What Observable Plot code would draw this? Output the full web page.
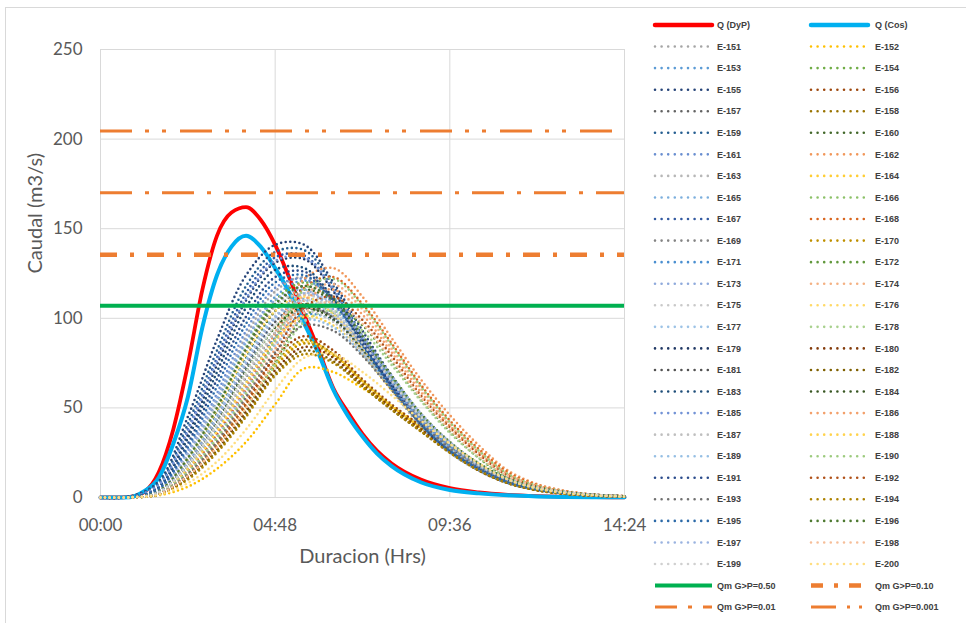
<!DOCTYPE html>
<html><head><meta charset="utf-8">
<script src="https://cdn.jsdelivr.net/npm/d3@7"></script>
<script src="https://cdn.jsdelivr.net/npm/@observablehq/plot@0.6"></script>
<style>
html,body{margin:0;padding:0;background:#fff;}
#wrap{position:relative;width:966px;height:623px;overflow:hidden;background:#fff;}
#frame{position:absolute;left:5px;top:7px;width:1000px;height:700px;border-left:1px solid #d9d9d9;border-top:1px solid #d9d9d9;}
#wrap svg{position:absolute;left:0;top:0;}
</style></head><body><div id="wrap"><div id="frame"></div></div>
<script>
// ---------- data ----------
const xTicks = [0, 4.8, 9.6, 14.4];
const yTicks = [0, 50, 100, 150, 200, 250];

const timesQ = [0,0.4,0.8,1.2,1.6,2.0,2.4,2.8,3.2,3.6,4.0,4.4,4.8,5.2,5.6,6.0,6.4,6.8,7.2,7.6,8.0,8.8,9.6,10.4,11.2,12.0,12.8,13.6,14.4];
const qDyP = [0,0,0.3,3,14,38,74,116,146,159,162,155,141,122,102,82,61,47.5,35.5,26,19,10,5.2,2.8,1.5,0.8,0.4,0.2,0.1];
const qCos = [0,0,0.2,3.5,11,30,56,95,124,140,146,140,128,114,97,80,60,45.5,34,24.5,17.5,8.5,4.2,2.3,1.2,0.6,0.3,0.15,0.1];

const timesE = [0,0.8,1.6,2.4,3.2,4.0,4.8,5.6,6.4,7.2,8.0,8.8,9.6,10.4,11.2,12.0,12.8,13.6,14.4];
const ensembleNames = d3.range(151, 201).map(n => "E-" + n);
const ensembleValues = [
 [0,0.2,4,24,55,90,115,123,112,89,65,44,28,17,9,5,2.6,1.3,0.6],        // E-151
 [0,0.1,1.2,6,16,31,52,72,70,61,51,40,28,18,9.5,4.8,2.3,1.1,0.5],      // E-152
 [0,0.2,4,23,53,87,112,121,111,89,66,44,29,17,9.5,5,2.7,1.3,0.6],      // E-153
 [0,0.2,3.5,22,51,84,110,120,111,90,67,45,29,18,9.5,5,2.7,1.3,0.6],    // E-154
 [0,0.5,9,45,88,124,141,141,120,93,68,46,30,18,10,5.5,3,1.5,0.7],      // E-155
 [0,0.1,2,13,30,54,78,90,82,66,52,40,28,17,9,4.5,2.2,1,0.5],           // E-156
 [0,0.2,3.5,21,49,81,107,118,110,90,67,45,30,18,10,5.2,2.8,1.4,0.6],   // E-157
 [0,0.1,2,12,29,52,75,88,80,65,51,39,27,16,8.5,4.3,2.1,1,0.5],         // E-158
 [0,0.4,8,41,82,118,137,138,118,90,65,44,28,17,9,5,2.8,1.4,0.6],       // E-159
 [0,0.2,3,20,47,78,104,116,109,89,67,46,30,18,10,5.2,2.8,1.4,0.6],     // E-160
 [0,0.2,4,26,58,93,117,122,108,85,61,40,26,15,8,4.3,2.3,1.1,0.5],      // E-161
 [0,0.1,2.5,15,36,62,92,122,128,112,89,66,46,29,15,7.5,3.6,1.6,0.8],   // E-162
 [0,0.2,3,19,45,75,101,113,107,88,66,46,30,18,10,5.2,2.8,1.4,0.6],     // E-163
 [0,0.1,1.9,12,29,51,74,87,80,65,51,39,27,16,8.5,4.3,2.1,1,0.5],       // E-164
 [0,0.2,3,18,43,72,98,111,105,87,66,45,30,18,10,5.2,2.8,1.4,0.6],      // E-165
 [0,0.2,3,18,42,70,95,108,103,86,65,45,30,18,10,5.2,2.8,1.4,0.6],      // E-166
 [0,0.4,7,38,78,114,134,135,116,89,64,43,28,17,9,5,2.7,1.3,0.6],       // E-167
 [0,0.1,2.5,15,35,60,89,117,123,108,86,63,43,27,14,7,3.4,1.5,0.8],     // E-168
 [0,0.1,2.5,17,40,67,92,105,101,85,64,44,29,18,10,5.2,2.8,1.4,0.6],    // E-169
 [0,0.1,1.8,12,28,50,73,86,79,64,50,38,26,16,8.5,4.3,2.1,1,0.5],       // E-170
 [0,0.1,2.5,16,38,64,89,102,99,84,64,44,29,18,10,5.2,2.8,1.4,0.6],     // E-171
 [0,0.1,1.8,11,27,49,76,101,107,96,76,55,37,22,11,5.5,2.8,1.3,0.6],    // E-172
 [0,0.2,4,25,56,88,110,116,104,83,60,40,25,15,8,4.3,2.3,1.1,0.5],      // E-173
 [0,0.1,2.2,14,33,58,86,113,119,105,83,61,41,26,13,6.5,3.2,1.4,0.7],   // E-174
 [0,0.2,3.5,23,52,84,107,114,103,83,61,41,26,15,8,4.3,2.3,1.1,0.5],    // E-175
 [0,0.2,3.5,21,49,80,104,112,102,83,61,41,26,15.5,8.2,4.4,2.4,1.2,0.5],// E-176
 [0,0.2,3,20,46,77,101,110,101,82,61,41,26,15.5,8.2,4.4,2.4,1.2,0.5],  // E-177
 [0,0.1,1.8,11,26,47,74,98,104,93,74,54,36,22,11,5.5,2.8,1.3,0.6],     // E-178
 [0,0.3,6,35,74,110,131,133,115,88,63,42,27,16,9,5,2.6,1.3,0.6],       // E-179
 [0,0.1,1.8,11,27,48,71,84,78,63,50,38,26,15,8,4,2,1,0.5],             // E-180
 [0,0.1,3,19,44,74,98,108,100,82,61,41,26,15.5,8.2,4.4,2.4,1.2,0.5],   // E-181
 [0,0.1,1.7,11,26,46,69,82,76,62,49,37,25,15,8,4,2,1,0.5],             // E-182
 [0,0.3,6,33,70,106,127,128,111,86,62,41,26,16,8.5,4.6,2.5,1.2,0.5],   // E-183
 [0,0.1,2.5,18,42,71,95,106,99,82,61,41,26,16,8.5,4.5,2.4,1.2,0.5],    // E-184
 [0,0.3,7,37,76,111,132,134,116,89,64,43,28,17,9,5,2.7,1.3,0.6],       // E-185
 [0,0.1,2,13,31,55,83,110,116,102,81,59,40,25,13,6.5,3.2,1.4,0.7],     // E-186
 [0,0.1,2.5,17,40,68,92,104,98,81,61,41,27,16,8.5,4.5,2.4,1.2,0.5],    // E-187
 [0,0.1,2.2,16,37,64,88,101,96,80,60,41,27,16,8.5,4.5,2.4,1.2,0.5],    // E-188
 [0,0.1,2,14,34,60,85,99,95,80,61,42,27,16,8.5,4.5,2.4,1.2,0.5],       // E-189
 [0,0.1,2.2,14,33,58,88,116,122,107,85,62,42,26,13,6.5,3.2,1.4,0.7],   // E-190
 [0,0.3,5,30,66,101,123,126,110,86,62,41,26,16,8.5,4.6,2.5,1.2,0.5],   // E-191
 [0,0.1,2,12,29,52,80,106,112,99,79,57,39,24,12,6,3,1.4,0.7],          // E-192
 [0,0.1,2,13,31,56,81,96,93,79,60,42,27,16,8.5,4.5,2.4,1.2,0.5],       // E-193
 [0,0.1,1.6,10,25,45,68,80,75,62,49,37,25,15,8,4,2,1,0.5],             // E-194
 [0,0.3,5,28,62,97,120,124,109,85,61,41,26,16,8.5,4.5,2.4,1.2,0.5],    // E-195
 [0,0.2,3.5,22,50,83,108,118,110,90,68,47,31,19,10.5,5.5,2.9,1.4,0.6], // E-196
 [0,0.1,3,19,44,75,100,114,108,90,68,47,31,19,10.5,5.5,2.9,1.4,0.6],   // E-197
 [0,0.1,2,12,28,50,77,103,109,97,77,56,38,23,12,6,3,1.4,0.7],          // E-198
 [0,0.1,2.8,18,41,70,96,110,104,86,65,45,30,18,10,5.2,2.8,1.4,0.6],    // E-199
 [0,0.1,1.5,8,20,38,60,78,80,70,57,43,30,19,10,5,2.4,1.1,0.5]          // E-200
];

const thresholdLabels = ["Qm G>P=0.50", "Qm G>P=0.10", "Qm G>P=0.01", "Qm G>P=0.001"];
const thresholdValues = [107, 135.5, 170, 204.5];

// ---------- styles ----------
const ensembleColors = [
 "#A5A5A5","#FFC000","#5B9BD5","#70AD47","#264478","#9E480E","#636363","#997300","#255E91","#43682B",
 "#698ED0","#F1975A","#B7B7B7","#FFCD33","#7CAFDD","#8CC168","#335AA1","#D9661F","#848484","#BF9000",
 "#4A8FD0","#62993E","#8FAADC","#F4B183","#C9C9C9","#FFD966","#9DC3E6","#A9D18E","#203864","#843C0C",
 "#525252","#7F6000","#1F4E79","#385723","#7393D6","#F3A06B","#BFBFBF","#FFD34D","#96BFE4","#9DCB7E",
 "#2B4C8C","#B0521A","#707070","#AD8200","#2C6AA8","#4E7A31","#9AB3E0","#F6BE99","#D0D0D0","#FFDE80"
];
const thresholdStyles = [
 {stroke:"#00B050", strokeWidth:4, dash:null, legendDash:null},
 {stroke:"#ED7D31", strokeWidth:4.5, dash:"17,13,4,13", legendDash:"12,11,4,11"},
 {stroke:"#ED7D31", strokeWidth:3, dash:"32,13,4,13", legendDash:"22,11,4,11"},
 {stroke:"#ED7D31", strokeWidth:3, dash:"32,13,4,13,4,14", legendDash:"25,11,3,9,3,20"}
];

const fmt = t => { const h = Math.floor(t + 1e-9); const m = Math.round((t - h) * 60);
  return String(h).padStart(2,"0") + ":" + String(m).padStart(2,"0"); };

const rowsQ = (vals) => timesQ.map((t, i) => ({t, v: vals[i]}));
const dotted = {strokeWidth: 2.6, strokeDasharray: "0,4.6", strokeLinecap: "round", curve: "catmull-rom"};

const marks = [
  Plot.ruleY(yTicks, {stroke: "#d9d9d9", strokeWidth: 1}),
  Plot.ruleX(xTicks, {stroke: "#d9d9d9", strokeWidth: 1}),
  Plot.line(rowsQ(qDyP), {x: "t", y: "v", stroke: "#FF0000", strokeWidth: 3.8, curve: "monotone-x"}),
  Plot.line(rowsQ(qCos), {x: "t", y: "v", stroke: "#00B0F0", strokeWidth: 4, curve: "monotone-x"})
];
ensembleValues.forEach((vals, k) => {
  marks.push(Plot.line(timesE.map((t, i) => ({t, v: vals[i]})),
    {x: "t", y: "v", stroke: ensembleColors[k], ...dotted}));
});
thresholdValues.forEach((v, k) => {
  const s = thresholdStyles[k];
  marks.push(Plot.ruleY([v], {stroke: s.stroke, strokeWidth: s.strokeWidth, strokeDasharray: s.dash || undefined}));
});
marks.push(Plot.text(["Duracion (Hrs)"], {frameAnchor: "bottom", dy: 65, fontSize: 20, fill: "#595959"}));
marks.push(Plot.text(["Caudal (m3/s)"], {frameAnchor: "left", dx: -65, rotate: -90, fontSize: 20, fill: "#595959"}));

const chart = Plot.plot({
  width: 966, height: 623,
  marginLeft: 100, marginRight: 342, marginTop: 49, marginBottom: 126,
  style: {fontFamily: "Lato, sans-serif", fontSize: "17px", color: "#595959", background: "transparent"},
  x: {domain: [0, 14.4], ticks: xTicks, tickFormat: fmt, tickSize: 0, tickPadding: 21, label: null},
  y: {domain: [0, 250], ticks: yTicks, tickSize: 0, tickPadding: 18, label: null},
  marks
});
document.getElementById("wrap").appendChild(chart);

// ---------- legend ----------
const items = [
  {label: "Q (DyP)", type: "solid", color: "#FF0000"},
  {label: "Q (Cos)", type: "solid", color: "#00B0F0"},
  ...ensembleNames.map((n, k) => ({label: n, type: "dot", color: ensembleColors[k]})),
  ...thresholdLabels.map((l, k) => ({label: l, type: "thr", style: thresholdStyles[k]}))
];
const lg = d3.select("#wrap").append("svg").attr("width", 966).attr("height", 623);
items.forEach((it, i) => {
  const col = i % 2, row = Math.floor(i / 2);
  const x0 = col ? 811 : 655, y = 25 + row * 21.56;
  if (it.type === "solid") {
    lg.append("line").attr("x1", x0).attr("x2", x0 + 57).attr("y1", y).attr("y2", y)
      .attr("stroke", it.color).attr("stroke-width", 4.5).attr("stroke-linecap", "round");
  } else if (it.type === "dot") {
    lg.append("line").attr("x1", x0).attr("x2", x0 + 54).attr("y1", y).attr("y2", y)
      .attr("stroke", it.color).attr("stroke-width", 2.6).attr("stroke-linecap", "round")
      .attr("stroke-dasharray", "0,6.6");
  } else {
    const s = it.style;
    const l = lg.append("line").attr("x1", x0).attr("x2", x0 + 57).attr("y1", y).attr("y2", y)
      .attr("stroke", s.stroke).attr("stroke-width", s.strokeWidth);
    if (s.legendDash) l.attr("stroke-dasharray", s.legendDash);
  }
  lg.append("text").attr("x", col ? 875 : 717).attr("y", y).attr("dy", "0.35em")
    .attr("font-family", "Liberation Sans, Arial, sans-serif").attr("font-size", 9)
    .attr("font-weight", "bold").attr("fill", "#404040").text(it.label);
});
</script></body></html>
